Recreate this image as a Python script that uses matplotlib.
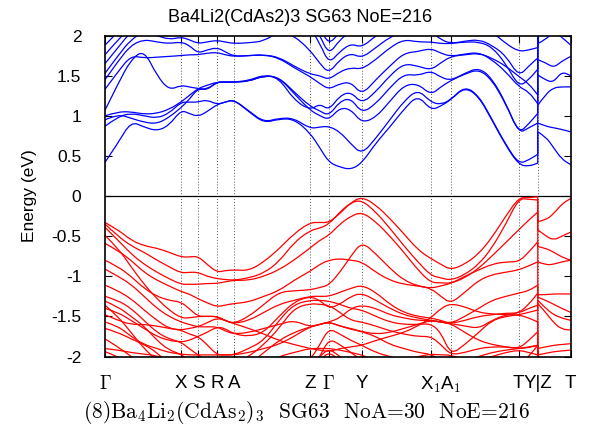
import matplotlib.pyplot as plt
from matplotlib.path import Path
from matplotlib.patches import PathPatch

# k-path (path length units) and high-symmetry points
k_ticks = [0, 76, 93, 112, 129, 205, 224, 257, 326, 346, 414, 433, 466]
k_labels = [r"$\Gamma$", "X", "S", "R", "A", "Z", r"$\Gamma$", "Y",
            r"X$_1$", r"A$_1$", "T", "Y|Z", "T"]

k_path = [0, 13, 26, 39, 52, 64, 76, 84, 93, 102, 112, 120, 129,
          144, 159, 174, 189, 205, 215, 224, 235, 246, 257,
          271, 285, 299, 313, 326, 336, 346, 360, 374, 387, 401, 414, 424, 433]
k_path_zt = [433, 441, 449, 457, 466]

# conduction bands, Gamma ... Y segment (eV)
conduction = [
    [0.42, 0.66, 0.93, 0.86, 0.81, 0.88, 1.07, 1.03, 0.99, 1.05, 1.14, 1.17, 1.20,
     1.05, 0.91, 0.96, 0.96, 0.79, 0.60, 0.42, 0.36, 0.33, 0.41,
     0.66, 0.86, 1.08, 1.26, 1.07, 1.12, 1.20, 1.36, 1.24, 0.95, 0.63, 0.39, 0.37, 0.41],
    [0.87, 0.99, 1.03, 1.00, 0.97, 1.03, 1.17, 1.17, 1.17, 1.20, 1.14, 1.17, 1.20,
     1.06, 0.92, 0.97, 0.97, 0.84, 0.86, 0.87, 0.80, 0.65, 0.52,
     0.72, 0.95, 1.18, 1.33, 1.17, 1.14, 1.20, 1.37, 1.25, 0.96, 0.64, 0.40, 0.45, 0.52],
    [0.95, 1.02, 0.97, 0.92, 0.90, 0.98, 1.10, 1.20, 1.34, 1.32, 1.42, 1.42, 1.42,
     1.43, 1.50, 1.48, 1.28, 1.07, 1.00, 0.95, 1.10, 1.08, 0.91,
     0.98, 1.18, 1.38, 1.40, 1.26, 1.36, 1.44, 1.52, 1.58, 1.45, 1.15, 0.78, 0.85, 0.91],
    [1.00, 1.05, 1.05, 1.02, 1.03, 1.08, 1.17, 1.25, 1.34, 1.38, 1.42, 1.42, 1.42,
     1.43, 1.50, 1.48, 1.30, 1.12, 1.06, 1.00, 1.18, 1.22, 1.03,
     1.15, 1.35, 1.52, 1.50, 1.56, 1.48, 1.44, 1.53, 1.60, 1.47, 1.16, 0.78, 0.90, 1.03],
    [1.07, 1.40, 1.70, 1.82, 1.50, 1.32, 1.38, 1.36, 1.34, 1.33, 1.42, 1.42, 1.42,
     1.44, 1.51, 1.47, 1.20, 1.07, 1.15, 1.07, 1.25, 1.30, 1.15,
     1.30, 1.50, 1.65, 1.62, 1.57, 1.66, 1.74, 1.76, 1.78, 1.72, 1.62, 1.49, 1.40, 1.26],
    [1.33, 1.55, 1.75, 1.72, 1.73, 1.74, 1.75, 1.76, 1.76, 1.78, 1.79, 1.76, 1.74,
     1.75, 1.76, 1.72, 1.60, 1.49, 1.40, 1.33, 1.40, 1.42, 1.26,
     1.45, 1.62, 1.78, 1.80, 1.84, 1.78, 1.74, 1.77, 1.79, 1.70, 1.55, 1.36, 1.30, 1.15],
    [1.45, 1.68, 1.88, 1.95, 1.92, 1.90, 1.92, 1.88, 1.78, 1.82, 1.85, 1.80, 1.74,
     1.75, 1.76, 1.73, 1.62, 1.52, 1.50, 1.45, 1.55, 1.60, 1.58,
     1.70, 1.85, 1.95, 1.92, 1.92, 1.90, 1.90, 1.92, 1.92, 1.86, 1.65, 1.36, 1.45, 1.58],
    [1.53, 1.75, 1.95, 2.05, 2.00, 1.95, 1.98, 1.95, 1.90, 1.92, 1.94, 1.92, 1.90,
     1.91, 1.93, 2.05, 2.00, 1.82, 1.65, 1.53, 1.70, 1.78, 1.72,
     1.85, 1.98, 2.05, 2.00, 2.05, 1.95, 1.90, 1.93, 1.95, 1.88, 1.75, 1.49, 1.62, 1.72],
    [1.65, 1.85, 2.05, 2.10, 2.10, 2.10, 2.10, 2.10, 2.10, 2.10, 2.10, 2.10, 2.10,
     2.10, 2.10, 2.10, 2.10, 2.10, 1.90, 1.65, 1.80, 1.90, 1.85,
     2.00, 2.10, 2.10, 2.10, 2.10, 2.10, 2.10, 2.10, 2.10, 2.05, 1.90, 1.80, 1.82, 1.85],
    [1.76, 1.95, 2.10, 2.20, 2.20, 2.20, 2.20, 2.20, 2.20, 2.20, 2.20, 2.20, 2.20,
     2.20, 2.20, 2.20, 2.20, 2.20, 2.00, 1.76, 1.95, 2.05, 2.00,
     2.20, 2.20, 2.20, 2.20, 2.20, 2.20, 2.20, 2.20, 2.20, 2.20, 2.20, 2.10, 2.05, 2.00],
    [1.88, 2.05, 2.20, 2.30, 2.30, 2.30, 2.30, 2.30, 2.30, 2.30, 2.30, 2.30, 2.30,
     2.30, 2.30, 2.30, 2.30, 2.30, 2.10, 1.88, 2.05, 2.15, 2.10,
     2.30, 2.30, 2.30, 2.30, 2.30, 2.30, 2.30, 2.30, 2.30, 2.30, 2.30, 2.30, 2.30, 2.20],
]

# conduction bands, Z ... T segment
conduction_zt = [
    [0.80, 0.74, 0.60, 0.46, 0.39],
    [0.91, 0.87, 0.85, 0.83, 0.80],
    [1.13, 1.27, 1.35, 1.36, 1.36],
    [1.51, 1.44, 1.42, 1.55, 1.50],
    [1.70, 1.66, 1.60, 1.68, 1.74],
    [1.90, 1.95, 2.05, 1.98, 1.88],
    [2.20, 2.20, 2.20, 2.20, 2.20],
    [2.20, 2.20, 2.20, 2.20, 2.20],
    [2.20, 2.20, 2.20, 2.20, 2.20],
    [2.20, 2.20, 2.20, 2.20, 2.20],
    [2.20, 2.20, 2.20, 2.20, 2.20],
]

# valence bands, Gamma ... Y segment (eV)
valence = [
    [-0.33, -0.42, -0.55, -0.62, -0.65, -0.70, -0.76, -0.76, -0.75, -0.85, -0.95, -0.93, -0.92,
     -0.93, -0.82, -0.66, -0.47, -0.33, -0.33, -0.33, -0.22, -0.08, -0.01,
     -0.11, -0.28, -0.47, -0.67, -0.78, -0.85, -0.92, -0.85, -0.72, -0.52, -0.25, -0.02, -0.02, -0.01],
    [-0.35, -0.50, -0.62, -0.70, -0.80, -0.88, -0.96, -0.95, -0.95, -1.00, -1.03, -1.04, -1.05,
     -1.02, -0.96, -0.82, -0.58, -0.43, -0.40, -0.35, -0.20, -0.08, -0.05,
     -0.20, -0.40, -0.62, -0.82, -0.99, -1.02, -1.05, -0.98, -0.85, -0.65, -0.35, -0.03, -0.04, -0.05],
    [-0.39, -0.55, -0.72, -0.85, -0.95, -1.03, -1.10, -1.10, -1.10, -1.09, -1.09, -1.07, -1.05,
     -1.05, -1.00, -0.92, -0.80, -0.65, -0.55, -0.49, -0.35, -0.25, -0.20,
     -0.32, -0.50, -0.70, -0.92, -1.08, -1.08, -1.09, -1.02, -0.90, -0.75, -0.58, -0.42, -0.30, -0.20],
    [-0.49, -0.65, -0.88, -1.10, -1.28, -1.42, -1.52, -1.52, -1.50, -1.50, -1.50, -1.55, -1.59,
     -1.50, -1.35, -1.20, -1.18, -1.17, -1.14, -1.11, -0.95, -0.75, -0.57,
     -0.72, -0.90, -1.05, -1.12, -1.15, -1.12, -1.09, -1.00, -0.92, -0.85, -0.82, -0.82, -0.70, -0.57],
    [-0.59, -0.68, -0.80, -0.95, -1.05, -1.12, -1.19, -1.22, -1.28, -1.33, -1.38, -1.36, -1.34,
     -1.32, -1.25, -1.18, -1.05, -0.94, -0.85, -0.80, -0.78, -0.80, -0.82,
     -0.95, -1.05, -1.10, -1.12, -1.15, -1.25, -1.34, -1.20, -1.05, -0.98, -0.95, -0.92, -0.87, -0.82],
    [-0.80, -0.88, -1.00, -1.15, -1.25, -1.30, -1.32, -1.40, -1.50, -1.50, -1.50, -1.55, -1.59,
     -1.55, -1.45, -1.35, -1.30, -1.25, -1.25, -1.25, -1.20, -1.15, -1.11,
     -1.20, -1.35, -1.45, -1.50, -1.52, -1.55, -1.59, -1.50, -1.40, -1.30, -1.25, -1.21, -1.18, -1.11],
    [-0.91, -1.00, -1.10, -1.25, -1.40, -1.50, -1.57, -1.60, -1.63, -1.63, -1.63, -1.68, -1.72,
     -1.70, -1.65, -1.60, -1.55, -1.63, -1.60, -1.57, -1.52, -1.40, -1.36,
     -1.40, -1.48, -1.52, -1.55, -1.55, -1.57, -1.59, -1.55, -1.50, -1.48, -1.46, -1.46, -1.40, -1.36],
    [-1.11, -1.18, -1.28, -1.42, -1.55, -1.65, -1.67, -1.72, -1.75, -1.85, -1.98, -1.98, -1.98,
     -1.90, -1.80, -1.55, -1.35, -1.30, -1.30, -1.31, -1.35, -1.40, -1.42,
     -1.50, -1.57, -1.60, -1.60, -1.59, -1.70, -1.98, -1.85, -1.70, -1.55, -1.50, -1.48, -1.45, -1.42],
    [-1.25, -1.30, -1.40, -1.55, -1.70, -1.78, -1.82, -1.90, -1.98, -2.05, -2.10, -2.10, -2.10,
     -2.00, -1.85, -1.65, -1.40, -1.34, -1.35, -1.36, -1.45, -1.55, -1.57,
     -1.62, -1.68, -1.72, -1.75, -1.75, -1.85, -1.98, -1.95, -1.90, -1.88, -1.88, -1.90, -1.88, -1.86],
    [-1.31, -1.38, -1.50, -1.62, -1.80, -1.92, -1.97, -2.05, -2.10, -2.20, -2.20, -2.20, -2.20,
     -2.10, -1.95, -1.80, -1.70, -1.63, -1.60, -1.57, -1.62, -1.66, -1.69,
     -1.75, -1.85, -1.90, -1.95, -1.97, -2.05, -2.10, -2.05, -2.00, -1.95, -1.92, -1.90, -1.89, -1.86],
    [-1.36, -1.50, -1.70, -1.90, -2.05, -2.20, -2.30, -2.30, -2.30, -2.30, -2.30, -2.30, -2.30,
     -2.20, -2.10, -2.00, -1.95, -1.90, -1.90, -1.90, -1.92, -1.95, -1.98,
     -2.05, -2.10, -2.15, -2.20, -2.20, -2.20, -2.20, -2.10, -2.05, -2.00, -1.95, -1.92, -1.95, -1.98],
    [-1.40, -1.45, -1.55, -1.65, -1.75, -1.80, -1.82, -1.80, -1.75, -1.70, -1.63, -1.65, -1.72,
     -1.75, -1.70, -1.50, -1.32, -1.25, -1.30, -1.40, -1.35, -1.25, -1.21,
     -1.30, -1.40, -1.48, -1.52, -1.55, -1.57, -1.59, -1.62, -1.65, -1.55, -1.48, -1.46, -1.35, -1.21],
    [-1.48, -1.55, -1.60, -1.60, -1.62, -1.65, -1.67, -1.65, -1.63, -1.58, -1.52, -1.55, -1.59,
     -1.65, -1.72, -1.80, -1.85, -1.90, -1.92, -1.94, -1.90, -1.88, -1.86,
     -1.80, -1.75, -1.70, -1.62, -1.52, -1.40, -1.34, -1.38, -1.45, -1.47, -1.48, -1.48, -1.52, -1.57],
    [-1.57, -1.62, -1.75, -1.85, -1.90, -1.95, -1.97, -1.98, -1.98, -1.98, -1.98, -1.98, -1.98,
     -1.95, -1.90, -1.85, -1.75, -1.63, -1.60, -1.57, -1.62, -1.65, -1.69,
     -1.72, -1.70, -1.65, -1.60, -1.55, -1.57, -1.59, -1.70, -1.80, -1.85, -1.88, -1.90, -1.80, -1.69],
    [-1.65, -1.70, -1.78, -1.85, -1.95, -2.10, -2.20, -2.20, -2.20, -2.20, -2.20, -2.20, -2.20,
     -2.20, -2.20, -2.20, -2.10, -2.05, -1.85, -1.65, -1.72, -1.80, -1.86,
     -1.95, -2.00, -2.05, -2.00, -1.97, -1.98, -1.98, -2.05, -2.10, -2.10, -2.10, -2.10, -2.00, -1.86],
    [-1.78, -1.88, -2.00, -2.10, -2.20, -2.20, -2.20, -2.20, -2.20, -2.20, -2.20, -2.20, -2.20,
     -2.20, -2.20, -2.20, -2.20, -2.20, -2.00, -1.78, -1.85, -1.95, -2.05,
     -2.20, -2.20, -2.20, -2.20, -2.20, -2.20, -2.20, -2.20, -2.20, -2.20, -2.20, -2.20, -2.20, -2.20],
    [-1.90, -1.92, -1.95, -1.97, -1.99, -2.05, -2.10, -2.20, -2.20, -2.20, -2.20, -2.20, -2.20,
     -2.20, -2.20, -2.20, -2.20, -2.10, -2.00, -1.90, -2.00, -2.10, -2.20,
     -2.20, -2.20, -2.20, -2.20, -2.20, -2.20, -2.20, -2.20, -2.20, -2.20, -2.20, -2.20, -2.20, -2.20],
    [-1.94, -2.00, -2.10, -2.20, -2.20, -2.20, -2.20, -2.20, -2.20, -2.20, -2.20, -2.20, -2.20,
     -2.20, -2.20, -2.20, -2.20, -2.20, -2.05, -1.94, -2.05, -2.20, -2.20,
     -2.20, -2.20, -2.20, -2.20, -2.20, -2.20, -2.20, -2.20, -2.20, -2.20, -2.20, -2.20, -2.20, -2.20],
]

# valence bands, Z ... T segment
valence_zt = [
    [-0.32, -0.30, -0.22, -0.10, -0.03],
    [-0.42, -0.50, -0.55, -0.50, -0.45],
    [-0.63, -0.65, -0.70, -0.76, -0.80],
    [-0.82, -0.86, -0.85, -0.82, -0.80],
    [-1.23, -1.23, -1.22, -1.22, -1.22],
    [-1.26, -1.30, -1.35, -1.40, -1.45],
    [-1.30, -1.40, -1.48, -1.52, -1.55],
    [-1.34, -1.45, -1.58, -1.66, -1.67],
    [-1.90, -1.88, -1.86, -1.85, -1.84],
    [-1.98, -1.96, -1.94, -1.93, -1.92],
    [-2.20, -2.20, -2.20, -2.20, -2.20],
    [-2.20, -2.20, -2.20, -2.20, -2.20],
    [-2.20, -2.20, -2.20, -2.20, -2.20],
    [-2.20, -2.20, -2.20, -2.20, -2.20],
    [-2.20, -2.20, -2.20, -2.20, -2.20],
    [-2.20, -2.20, -2.20, -2.20, -2.20],
    [-2.20, -2.20, -2.20, -2.20, -2.20],
    [-2.20, -2.20, -2.20, -2.20, -2.20],
]

y_ticks = [2, 1.5, 1, 0.5, 0, -0.5, -1, -1.5, -2]
y_tick_labels = ["2", "1.5", "1", "0.5", "0", "-0.5", "-1", "-1.5", "-2"]


def band_path(xs, ys, xs2, ys2):
    # rounded path through the band samples (quadratic segments between midpoints),
    # with a straight jump at the Y|Z break
    verts, codes = [], []
    for k, (px, py) in enumerate([(xs, ys), (xs2, ys2)]):
        pts = list(zip(px, py))
        verts.append(pts[0])
        codes.append(Path.MOVETO if k == 0 else Path.LINETO)
        for i in range(1, len(pts) - 1):
            mid = ((pts[i][0] + pts[i + 1][0]) / 2, (pts[i][1] + pts[i + 1][1]) / 2)
            verts += [pts[i], mid]
            codes += [Path.CURVE3, Path.CURVE3]
        verts.append(pts[-1])
        codes.append(Path.LINETO)
    return Path(verts, codes)


plt.rcParams["font.family"] = ["Liberation Sans", "DejaVu Sans"]
plt.rcParams["mathtext.fontset"] = "cm"

fig = plt.figure(figsize=(5.89, 4.36), dpi=100)
ax = fig.add_axes([0.1783, 0.1823, 0.7907, 0.7362])

# high-symmetry guide lines and Fermi level
for kt in k_ticks[1:-1]:
    ax.axvline(kt, color="#555555", lw=0.7, ls=(0, (1, 2)), zorder=1)
ax.axhline(0, color="black", lw=0.9, zorder=1)

for band, band_zt in zip(conduction, conduction_zt):
    ax.add_patch(PathPatch(band_path(k_path, band, k_path_zt, band_zt),
                           fill=False, edgecolor="#0000ff", lw=0.9, zorder=2))
for band, band_zt in zip(valence, valence_zt):
    ax.add_patch(PathPatch(band_path(k_path, band, k_path_zt, band_zt),
                           fill=False, edgecolor="#ff0000", lw=0.9, zorder=2))

ax.set_xlim(k_ticks[0], k_ticks[-1])
ax.set_ylim(-2, 2)
ax.set_xticks(k_ticks)
ax.set_xticklabels(k_labels, fontsize=13.5)
ax.set_yticks(y_ticks)
ax.set_yticklabels(y_tick_labels, fontsize=12.5)
ax.tick_params(direction="in", top=True, right=True, length=5, width=0.8)
ax.tick_params(axis="x", pad=13)
ax.tick_params(axis="y", pad=17)
for spine in ax.spines.values():
    spine.set_linewidth(1.2)

ax.set_ylabel("Energy (eV)", fontsize=12.5)
ax.yaxis.set_label_coords(-0.145, 0.5)

fig.text(0.51, 0.961, "Ba4Li2(CdAs2)3 SG63 NoE=216", fontsize=13,
         ha="center", va="center")

fig.text(0.521, 0.055,
         "(8)Ba$_4$Li$_2$(CdAs$_2$)$_3$  SG63  NoA=30  NoE=216",
         family="cmr10", ha="center", va="center", fontsize=15.5)

fig.savefig("out.png", dpi=100)
